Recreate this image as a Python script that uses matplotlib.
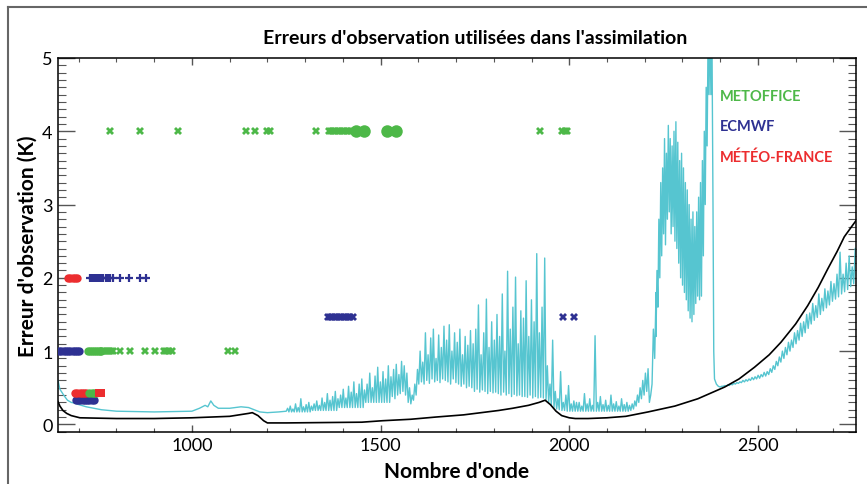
import numpy as np
import matplotlib
matplotlib.use("Agg")
import matplotlib.pyplot as plt
from matplotlib.ticker import MultipleLocator
from matplotlib.lines import Line2D

plt.rcParams['font.family'] = ['Lato', 'DejaVu Sans']

CYAN = '#56c5d0'
GREEN = '#4db848'
BLUE = '#2e3192'
RED = '#ec2d2f'

# ---- cyan spectrum ----
# smooth part 645-1250
cyan_smooth_x = [645, 650, 660, 670, 680, 690, 700, 720, 740, 760, 780, 800, 850, 900,
                 950, 1000, 1020, 1035, 1042, 1050, 1058, 1070, 1100, 1130, 1150, 1165,
                 1180, 1200, 1230, 1250]
cyan_smooth_y = [0.60, 0.48, 0.40, 0.33, 0.30, 0.29, 0.27, 0.24, 0.22, 0.20, 0.19, 0.18,
                 0.175, 0.17, 0.175, 0.18, 0.22, 0.26, 0.24, 0.32, 0.26, 0.22, 0.22, 0.24,
                 0.23, 0.20, 0.17, 0.16, 0.17, 0.18]

# spiky part 1250-2230, one low/high pair every ~7 cm-1
spiky_start, spiky_end = 1250, 2230
spiky_low = [0.17] * 10 + [0.19] * 10 + [0.23] * 10 + [0.30] * 10 + \
    [0.38, 0.35, 0.40, 0.42, 0.45, 0.40, 0.30, 0.28, 0.33, 0.40] + \
    [0.55, 0.58, 0.55, 0.60, 0.56, 0.62, 0.58, 0.60, 0.57, 0.62] + \
    [0.60, 0.58, 0.55, 0.62, 0.57, 0.55, 0.52, 0.55, 0.50, 0.52] + \
    [0.50, 0.45, 0.48, 0.44, 0.47, 0.45, 0.42, 0.45, 0.43, 0.44] + \
    [0.42, 0.40, 0.44, 0.40, 0.42, 0.38, 0.41, 0.39, 0.40, 0.38] + \
    [0.38, 0.37, 0.40, 0.36, 0.38, 0.36, 0.37, 0.36, 0.33, 0.30] + \
    [0.26, 0.23, 0.21, 0.20, 0.19, 0.19, 0.18, 0.18, 0.18, 0.18] + \
    [0.18] * 10 + [0.18] * 10 + \
    [0.19, 0.21, 0.25, 0.30, 0.35, 0.40, 0.45, 0.30, 0.55, 0.90]
spiky_high = [0.22, 0.25, 0.21, 0.28, 0.23, 0.35, 0.24, 0.27, 0.30, 0.25,
              0.28, 0.32, 0.26, 0.36, 0.30, 0.42, 0.33, 0.38, 0.45, 0.35,
              0.40, 0.48, 0.36, 0.52, 0.44, 0.58, 0.42, 0.55, 0.62, 0.47,
              0.55, 0.70, 0.50, 0.66, 0.78, 0.58, 0.72, 0.62, 0.80, 0.65,
              0.75, 0.82, 0.68, 0.86, 0.80, 0.70, 0.50, 0.40, 0.55, 0.75,
              1.00, 0.85, 1.25, 0.95, 1.18, 1.30, 0.90, 1.22, 1.05, 1.34,
              1.15, 1.36, 1.00, 1.25, 1.12, 1.30, 0.95, 1.20, 1.08, 1.28,
              1.10, 1.30, 1.63, 0.95, 1.25, 1.71, 1.05, 1.40, 1.15, 1.50,
              1.20, 1.78, 1.00, 2.09, 1.30, 1.60, 2.01, 1.10, 1.55, 1.45,
              1.96, 1.20, 1.70, 1.40, 2.33, 1.25, 1.60, 2.27, 0.80, 0.55,
              1.15, 0.45, 0.35, 0.72, 0.30, 0.40, 0.53, 0.28, 0.32, 0.30,
              0.30, 0.25, 0.42, 0.28, 0.35, 0.26, 1.21, 0.30, 0.38, 0.27,
              0.33, 0.26, 0.40, 0.28, 0.31, 0.25, 0.35, 0.27, 0.30, 0.26,
              0.28, 0.32, 0.40, 0.50, 0.60, 0.70, 0.76, 0.40, 1.30, 1.80]

# dense band 2230-2380
band_start, band_end = 2230, 2378
band_low = [1.20, 1.60, 2.00, 2.30, 2.60, 2.45, 2.80, 2.90, 2.60, 2.70,
            2.50, 2.40, 2.20, 2.00, 1.90, 1.80, 1.70, 1.55, 1.45, 1.40,
            1.50, 1.65, 1.75, 1.70, 1.75, 2.30, 3.00, 3.80, 4.50, 4.50]
band_high = [2.10, 2.80, 3.30, 3.50, 3.90, 3.70, 4.08, 3.90, 3.80, 4.00,
             4.13, 3.85, 3.60, 3.70, 3.50, 3.30, 3.20, 3.00, 2.80, 2.90,
             2.70, 2.90, 3.10, 3.30, 3.60, 4.00, 4.60, 5.30, 5.50, 5.50]

# sharp drop after the band
drop_x = [2381, 2383, 2385, 2390, 2395]
drop_y = [3.00, 1.00, 0.62, 0.55, 0.52]

# right part 2400-2760
right_start, right_end = 2400, 2758
right_low = [0.51, 0.52, 0.52, 0.53, 0.54, 0.55, 0.56, 0.57, 0.58, 0.59,
             0.60, 0.61, 0.62, 0.63, 0.65, 0.66, 0.68, 0.71, 0.75, 0.80,
             0.85, 0.90, 0.95, 1.00, 1.05, 1.10, 1.15, 1.20, 1.25, 1.31,
             1.37, 1.42, 1.46, 1.50, 1.55, 1.59, 1.63, 1.68, 1.71, 1.74,
             1.78, 1.81, 1.84, 1.88, 1.92]
right_high = [0.52, 0.53, 0.54, 0.55, 0.56, 0.57, 0.58, 0.60, 0.61, 0.62,
              0.64, 0.65, 0.67, 0.68, 0.71, 0.72, 0.76, 0.80, 0.86, 0.92,
              1.00, 1.05, 1.12, 1.15, 1.25, 1.28, 1.38, 1.40, 1.50, 1.52,
              1.65, 1.62, 1.78, 1.72, 1.85, 1.82, 1.95, 1.92, 2.05, 2.35,
              2.05, 2.20, 2.30, 2.15, 2.40]

# ---- black curve ----
black_x = [645, 650, 658, 668, 680, 703, 750, 800, 900, 1000, 1100, 1150, 1160, 1175,
           1190, 1200, 1250, 1350, 1450, 1505, 1580, 1646, 1720, 1813, 1850, 1892,
           1920, 1936, 1950, 1965, 1980, 2000, 2016, 2050, 2100, 2150, 2209, 2280,
           2341, 2412, 2450, 2491, 2530, 2561, 2600, 2632, 2660, 2685, 2710, 2729,
           2750, 2760]
black_y = [0.31, 0.25, 0.19, 0.15, 0.12, 0.09, 0.085, 0.08, 0.08, 0.09, 0.11, 0.15,
           0.16, 0.12, 0.05, 0.02, 0.02, 0.025, 0.03, 0.05, 0.07, 0.10, 0.13, 0.19,
           0.22, 0.26, 0.30, 0.33, 0.27, 0.18, 0.12, 0.09, 0.08, 0.08, 0.09, 0.11,
           0.17, 0.25, 0.35, 0.51, 0.62, 0.78, 0.95, 1.12, 1.37, 1.62, 1.87, 2.12,
           2.36, 2.56, 2.71, 2.78]

# ---- observation errors used by each centre ----
met_star4 = [784, 863, 963, 1142, 1167, 1200, 1207, 1329, 1362, 1368, 1374, 1380,
             1386, 1392, 1398, 1404, 1410, 1416, 1422, 1923, 1982, 1988, 1994]
met_circ4 = [1436, 1455, 1517, 1541]
met_circ1 = [725, 730, 735, 740, 745, 750, 755, 760]
met_star1 = [765, 770, 775, 780, 786, 791, 809, 836, 875, 902, 925, 932, 940, 946,
             1095, 1113]
met_circ043 = [728, 734, 740, 746]

ecm_circ1 = [648, 654, 660, 666, 672, 678, 684, 690, 696, 700]
ecm_plus2 = [730, 735, 740, 745, 750, 755, 760, 764, 772, 778, 784, 791, 809, 833,
             862, 878]
ecm_circ033 = [692, 698, 704, 710, 716, 722, 728, 734, 740]
ecm_star145 = [1360, 1366, 1372, 1378, 1384, 1390, 1396, 1402, 1408, 1414, 1420,
               1426, 1983, 2012]

mf_circ2 = [672, 678, 684, 690, 696]
mf_circ043 = [690, 696, 702, 708, 714, 718]
mf_sq043 = [753, 758]


def spiky(x0, x1, lows, highs):
    # interleave read low / high values along the wavenumber range
    n = len(highs)
    xs = np.linspace(x0, x1, 2 * n)
    ys = np.empty(2 * n)
    ys[0::2] = lows
    ys[1::2] = highs
    return xs, ys


sx, sy = spiky(spiky_start, spiky_end, spiky_low, spiky_high)
bx, by = spiky(band_start, band_end, band_low, band_high)
rx, ry = spiky(right_start, right_end, right_low, right_high)
cyan_x = np.concatenate([cyan_smooth_x, sx[1:], bx, drop_x, rx])
cyan_y = np.concatenate([cyan_smooth_y, sy[1:], by, drop_y, ry])

fig = plt.figure(figsize=(8.67, 4.85), dpi=100)
ax = fig.add_axes([0.0669, 0.1078, 0.9204, 0.7706])

ax.plot(cyan_x, cyan_y, color=CYAN, lw=1.0, zorder=2)
ax.plot(black_x, black_y, color='black', lw=1.2, zorder=3)

star = dict(ls='none', marker='X', ms=5.5, mew=0, zorder=5)
circ = dict(ls='none', marker='o', ms=6, mew=0, zorder=5)

ax.plot(met_star4, [4] * len(met_star4), color=GREEN, **star)
ax.plot(met_circ4, [4] * len(met_circ4), color=GREEN, ls='none', marker='o', ms=9, mew=0, zorder=5)
ax.plot(met_circ1, [1] * len(met_circ1), color=GREEN, **circ)
ax.plot(met_star1, [1] * len(met_star1), color=GREEN, **star)

ax.plot(ecm_circ1, [1] * len(ecm_circ1), color=BLUE, **circ)
ax.plot(ecm_plus2, [2] * len(ecm_plus2), color=BLUE, ls='none', marker='+', ms=6, mew=1.6, zorder=5)
ax.plot(ecm_circ033, [0.33] * len(ecm_circ033), color=BLUE, **circ)
ax.plot(ecm_star145, [1.46] * len(ecm_star145), color=BLUE, **star)

ax.plot(mf_circ2, [2] * len(mf_circ2), color=RED, **circ)
ax.plot(mf_circ043, [0.43] * len(mf_circ043), color=RED, **circ)
ax.plot(met_circ043, [0.43] * len(met_circ043), color=GREEN, **circ)
ax.plot(mf_sq043, [0.43] * len(mf_sq043), color=RED, ls='none', marker='s', ms=6, mew=0, zorder=5)

ax.set_xlim(645, 2760)
ax.set_ylim(-0.1, 5)
ax.xaxis.set_major_locator(MultipleLocator(500))
ax.xaxis.set_minor_locator(MultipleLocator(100))
ax.yaxis.set_major_locator(MultipleLocator(1))
ax.yaxis.set_minor_locator(MultipleLocator(0.1))
ax.tick_params(axis='both', which='both', direction='in', top=True, right=True,
               color='#555555', labelsize=13)
ax.tick_params(axis='x', which='major', length=5, width=1)
ax.tick_params(axis='x', which='minor', length=3, width=0.8)
ax.tick_params(axis='y', which='major', length=12, width=1, pad=4)
ax.tick_params(axis='y', which='minor', length=6, width=0.8)
for s in ax.spines.values():
    s.set_linewidth(1.1)

ax.set_xlabel("Nombre d'onde", fontsize=15, fontweight='bold', labelpad=6)
ax.set_ylabel("Erreur d'observation (K)", fontsize=15, fontweight='bold', labelpad=3)
fig.text(0.548, 0.921, "Erreurs d'observation utilisées dans l'assimilation",
         ha='center', va='center', fontsize=14, fontweight='bold')

ax.text(0.83, 0.898, 'METOFFICE', transform=ax.transAxes, color=GREEN,
        fontsize=10.5, fontweight='bold', va='center')
ax.text(0.83, 0.818, 'ECMWF', transform=ax.transAxes, color=BLUE,
        fontsize=10.5, fontweight='bold', va='center')
ax.text(0.83, 0.735, 'MÉTÉO-FRANCE', transform=ax.transAxes, color=RED,
        fontsize=10.5, fontweight='bold', va='center')

# thin frame around the figure
fig.add_artist(Line2D([8 / 867, 1], [1 - 8 / 485, 1 - 8 / 485], color='#666666', lw=1.5))
fig.add_artist(Line2D([8 / 867, 8 / 867], [0, 1 - 8 / 485], color='#666666', lw=1.5))

fig.savefig('out.png', dpi=100)
